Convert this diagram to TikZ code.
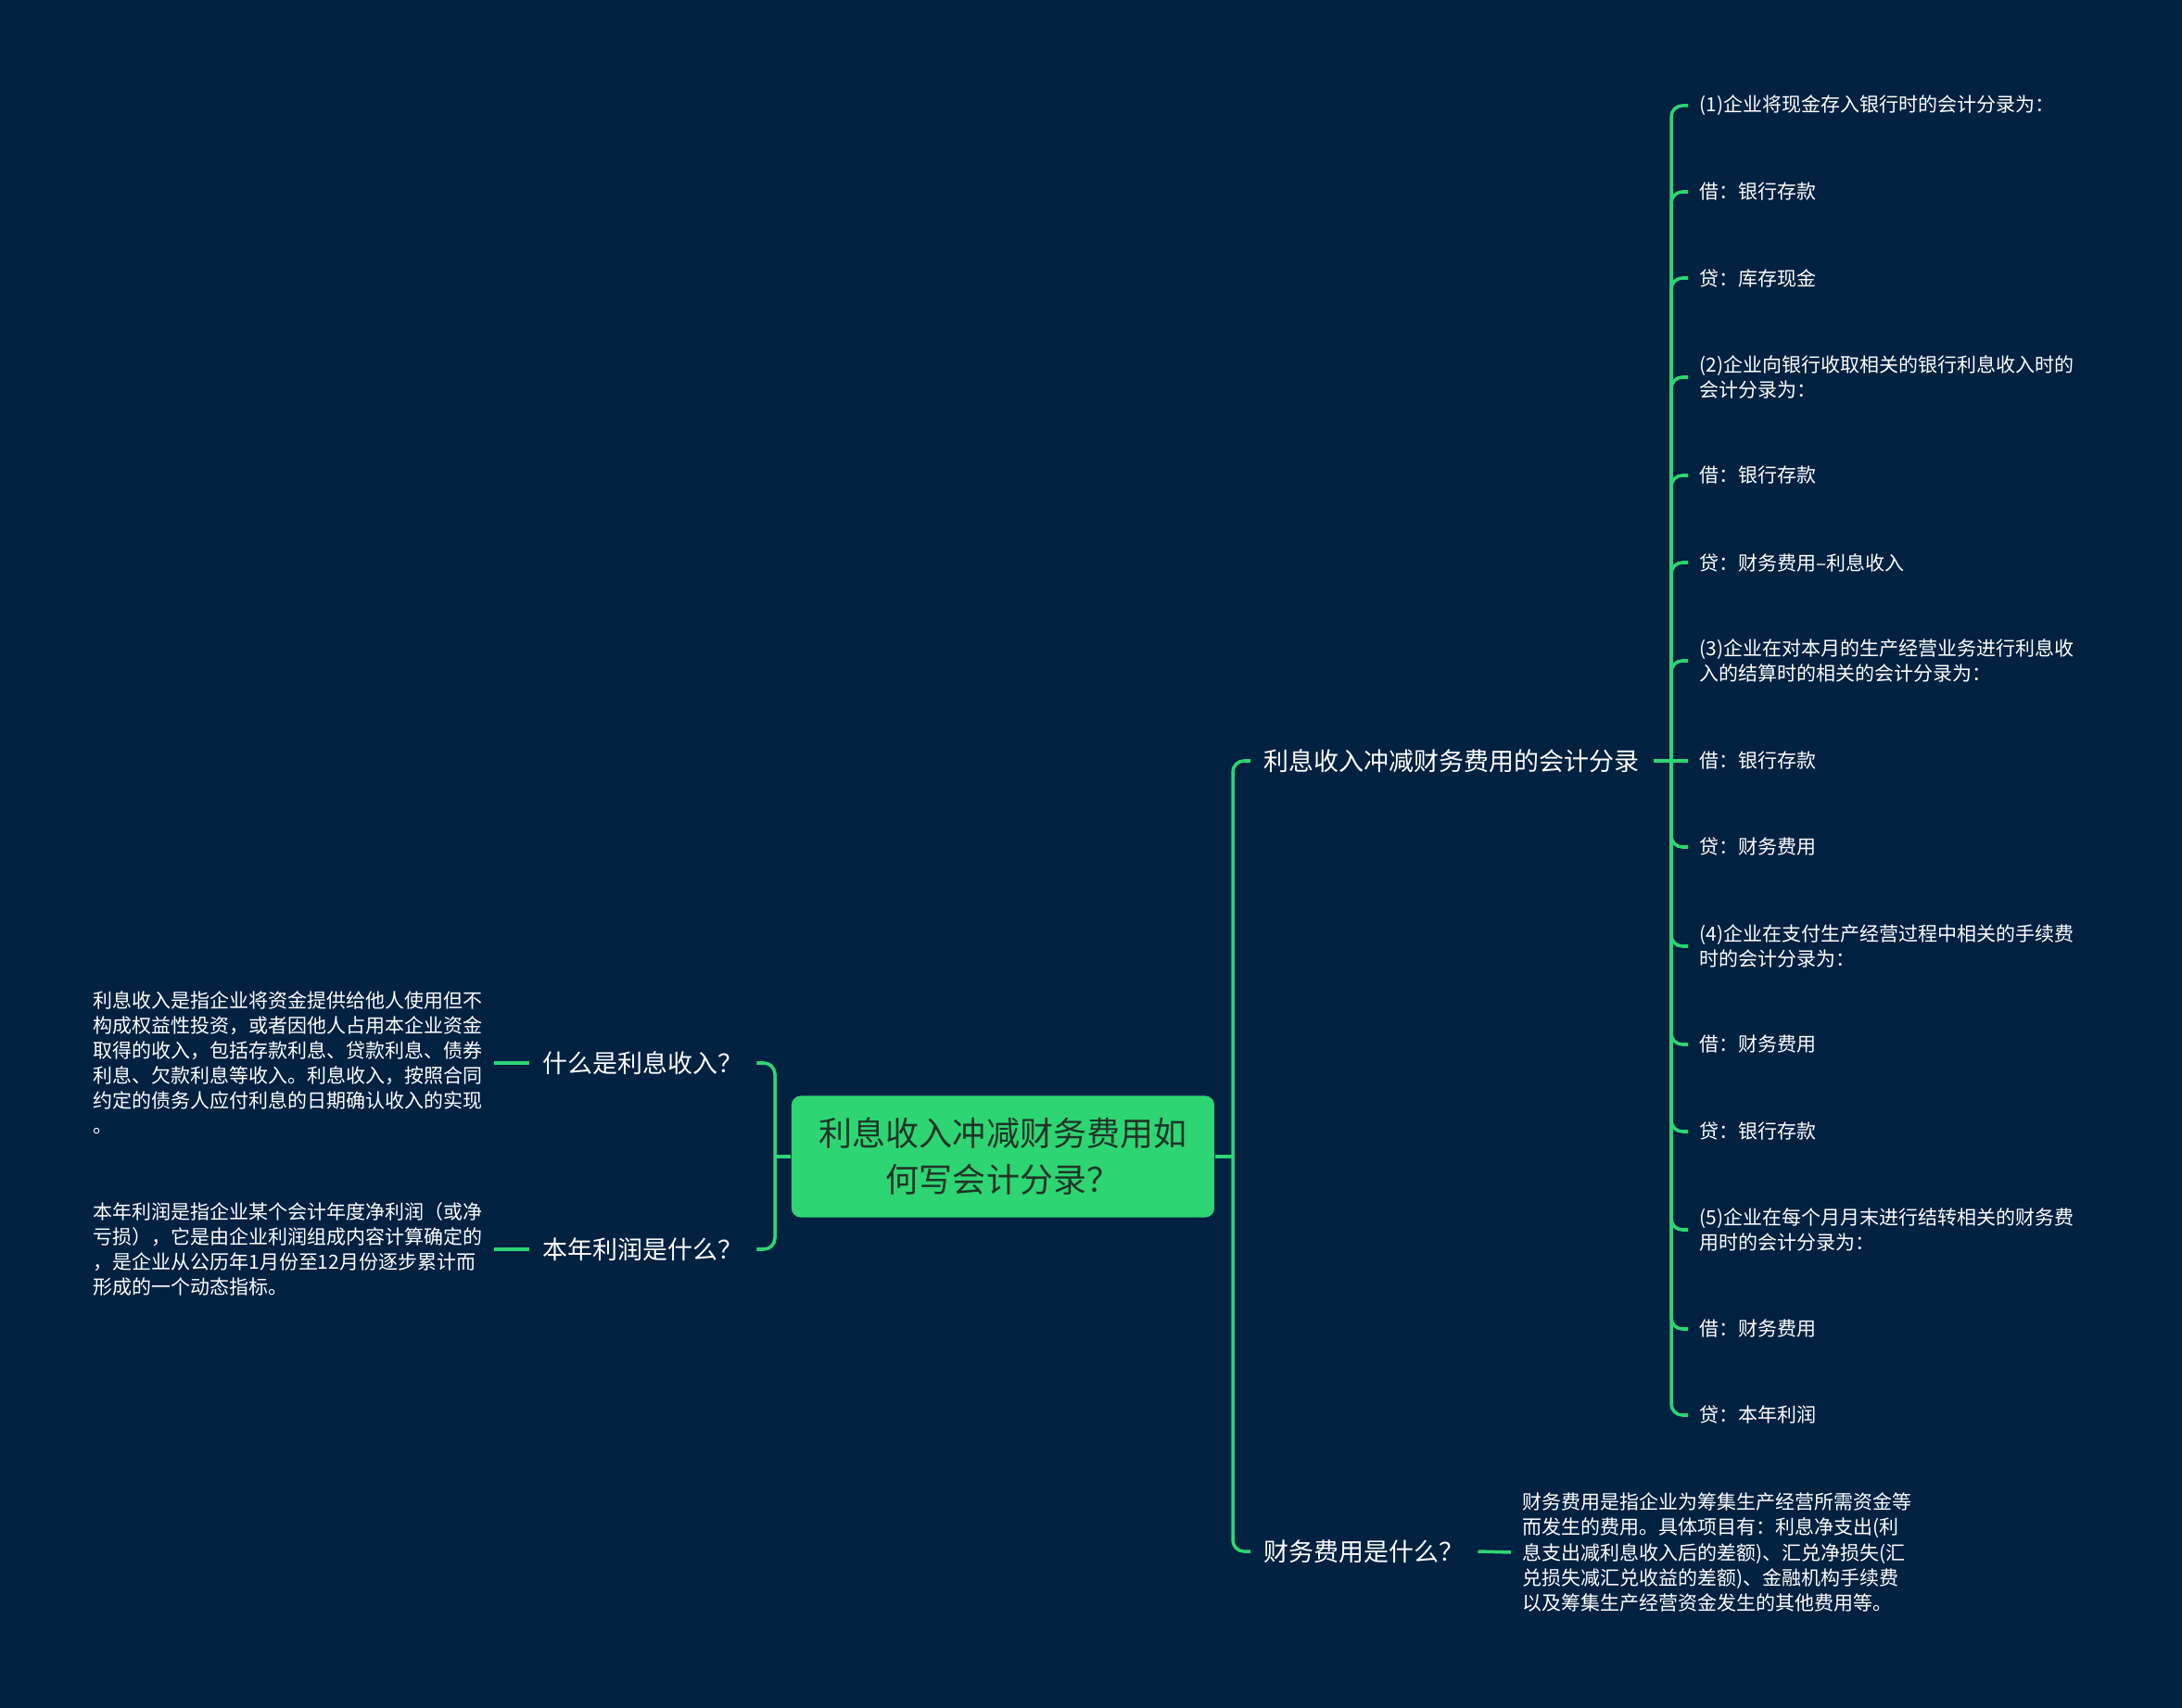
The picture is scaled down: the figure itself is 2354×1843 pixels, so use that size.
\documentclass[tikz,border=0pt]{standalone}
\usepackage{fontspec}
\setmainfont{Noto Sans CJK SC}
\usepackage{tikz}
\usetikzlibrary{positioning}
\definecolor{bgnavy}{HTML}{002140}
\definecolor{branch}{HTML}{2ED573}
\definecolor{rootink}{HTML}{1E3429}

\begin{document}
\begin{tikzpicture}[
  x=0.01cm, y=-0.01cm,
  every node/.style={text=white, inner ysep=2pt},
  topic/.style={font=\fontsize{7.68pt}{10pt}\selectfont, inner xsep=0.14cm},
  note/.style={font=\fontsize{5.97pt}{7.68pt}\selectfont, inner xsep=0.12cm, align=left},
  leaf/.style={note, anchor=west},
  central/.style={
    rectangle, rounded corners=0.1cm,
    fill=branch, text=rootink,
    minimum width=4.56cm, minimum height=1.31cm,
    align=center, font=\fontsize{10.24pt}{14.2pt}\selectfont
  },
  link/.style={draw=branch, line width=1pt, rounded corners=0.12cm}
]
\useasboundingbox (0,0) rectangle (2354,1843);
\fill[bgnavy] (0,0) rectangle (2354,1843);

\node[central] (root) at (1082,1248) {利息收入冲减财务费用如\\何写会计分录？};

\node[topic, anchor=west] (shouru)  at (571,1147)  {什么是利息收入？};
\node[topic, anchor=west] (lirun)   at (571,1348)  {本年利润是什么？};
\node[topic, anchor=west] (fenlu)   at (1349,821)  {利息收入冲减财务费用的会计分录};
\node[topic, anchor=west] (feiyong) at (1349,1674) {财务费用是什么？};

\node[note, anchor=east] (shouruNote) at (533,1147) {利息收入是指企业将资金提供给他人使用但不\\构成权益性投资，或者因他人占用本企业资金\\取得的收入，包括存款利息、贷款利息、债券\\利息、欠款利息等收入。利息收入，按照合同\\约定的债务人应付利息的日期确认收入的实现\\。};
\node[note, anchor=east] (lirunNote) at (533,1348) {本年利润是指企业某个会计年度净利润（或净\\亏损），它是由企业利润组成内容计算确定的\\，是企业从公历年1月份至12月份逐步累计而\\形成的一个动态指标。};
\node[note, anchor=west] (feiyongNote) at (1630,1675) {财务费用是指企业为筹集生产经营所需资金等\\而发生的费用。具体项目有：利息净支出(利\\息支出减利息收入后的差额)、汇兑净损失(汇\\兑损失减汇兑收益的差额)、金融机构手续费\\以及筹集生产经营资金发生的其他费用等。};

\node[leaf] (entry1)  at (1821,114)  {(1)企业将现金存入银行时的会计分录为：};
\node[leaf] (debit1)  at (1821,207)  {借：银行存款};
\node[leaf] (credit1) at (1821,300)  {贷：库存现金};
\node[leaf] (entry2)  at (1821,407)  {(2)企业向银行收取相关的银行利息收入时的\\会计分录为：};
\node[leaf] (debit2)  at (1821,513)  {借：银行存款};
\node[leaf] (credit2) at (1821,607)  {贷：财务费用–利息收入};
\node[leaf] (entry3)  at (1821,713)  {(3)企业在对本月的生产经营业务进行利息收\\入的结算时的相关的会计分录为：};
\node[leaf] (debit3)  at (1821,821)  {借：银行存款};
\node[leaf] (credit3) at (1821,914)  {贷：财务费用};
\node[leaf] (entry4)  at (1821,1021) {(4)企业在支付生产经营过程中相关的手续费\\时的会计分录为：};
\node[leaf] (debit4)  at (1821,1127) {借：财务费用};
\node[leaf] (credit4) at (1821,1221) {贷：银行存款};
\node[leaf] (entry5)  at (1821,1327) {(5)企业在每个月月末进行结转相关的财务费\\用时的会计分录为：};
\node[leaf] (debit5)  at (1821,1434) {借：财务费用};
\node[leaf] (credit5) at (1821,1527) {贷：本年利润};

\coordinate (lhub) at (836,1248);
\coordinate (rhub) at (1330,1248);
\coordinate (fhub) at (1803,821);

\draw[link] (root.west) -- (lhub);
\draw[link] (lhub) |- (shouru.east);
\draw[link] (lhub) |- (lirun.east);
\draw[link] (shouru.west) -- (shouruNote.east);
\draw[link] (lirun.west) -- (lirunNote.east);

\draw[link] (root.east) -- (rhub);
\draw[link] (rhub) |- (fenlu.west);
\draw[link] (rhub) |- (feiyong.west);
\draw[link] (feiyong.east) -- (feiyongNote.west);

\draw[link] (fenlu.east) -- (fhub);
\draw[link] (fhub) |- (entry1.west);
\draw[link] (fhub) |- (debit1.west);
\draw[link] (fhub) |- (credit1.west);
\draw[link] (fhub) |- (entry2.west);
\draw[link] (fhub) |- (debit2.west);
\draw[link] (fhub) |- (credit2.west);
\draw[link] (fhub) |- (entry3.west);
\draw[link] (fhub) -- (debit3.west);
\draw[link] (fhub) |- (credit3.west);
\draw[link] (fhub) |- (entry4.west);
\draw[link] (fhub) |- (debit4.west);
\draw[link] (fhub) |- (credit4.west);
\draw[link] (fhub) |- (entry5.west);
\draw[link] (fhub) |- (debit5.west);
\draw[link] (fhub) |- (credit5.west);
\end{tikzpicture}
\end{document}
